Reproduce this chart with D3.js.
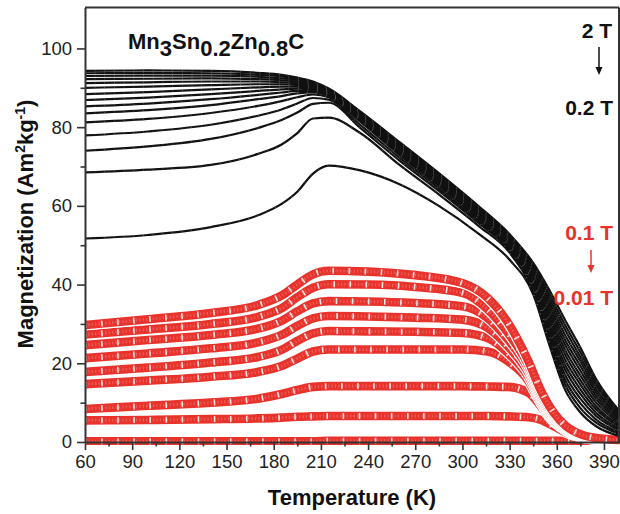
<!DOCTYPE html>
<html><head><meta charset="utf-8">
<script src="https://cdn.jsdelivr.net/npm/d3@7"></script>
<style>body{margin:0;background:#fff} svg{display:block}</style>
</head><body><svg id="chart" width="620" height="514"></svg>
<script>
// Temperatures (K) at which the curves are sampled
const blackT = [60,100,140,170,185,195,205,215,235,260,285,310,330,345,355,365,375,385,400];
// Black curves: 2 T (top) down to 0.2 T (bottom), magnetization in Am2/kg
const black01 = [94.3,94.4,94.3,93.8,93.3,92.6,91.6,89.8,84.0,76.2,68.3,60.0,52.8,45.5,38.8,31.2,24.0,16.0,7.8];
const black02 = [93.7,93.8,93.7,93.3,92.9,92.3,91.3,89.6,83.8,75.9,68.0,59.7,52.5,44.9,37.8,29.9,22.8,15.1,7.4];
const black03 = [93.0,93.1,93.1,92.8,92.4,91.9,91.0,89.4,83.5,75.5,67.6,59.3,52.1,44.4,36.8,28.7,21.6,14.3,6.9];
const black04 = [92.2,92.3,92.4,92.2,91.9,91.5,90.7,89.2,83.3,75.2,67.3,59.0,51.8,43.8,35.8,27.4,20.5,13.4,6.5];
const black05 = [91.2,91.4,91.6,91.6,91.4,91.1,90.4,89.0,83.0,74.9,67.0,58.7,51.5,43.2,34.9,26.1,19.3,12.6,6.0];
const black06 = [90.0,90.3,90.7,90.9,90.9,90.7,90.1,88.8,82.8,74.6,66.7,58.4,51.2,42.6,33.9,24.9,18.1,11.7,5.6];
const black07 = [88.4,88.9,89.6,90.1,90.3,90.3,89.8,88.6,82.5,74.2,66.3,58.0,50.8,42.1,32.9,23.6,16.9,10.9,5.1];
const black08 = [86.9,87.5,88.4,89.2,89.6,89.8,89.5,88.4,82.3,73.9,66.0,57.7,50.5,41.5,31.9,22.4,15.7,10.0,4.7];
const black09 = [85.3,86.0,87.1,88.2,88.8,89.2,89.2,88.2,82.0,73.6,65.7,57.4,50.2,40.9,30.9,21.1,14.6,9.1,4.2];
const black10 = [83.5,84.3,85.6,87.1,87.9,88.6,88.8,87.9,81.8,73.2,65.3,57.0,49.8,40.4,29.9,19.8,13.4,8.3,3.8];
const black11 = [81.2,82.1,83.6,85.4,86.6,87.6,88.3,87.6,81.4,72.9,65.0,56.7,49.5,39.8,28.9,18.6,12.2,7.4,3.3];
const black12 = [77.9,78.9,80.6,82.9,84.5,86.0,87.4,87.0,80.6,72.2,64.4,56.2,49.1,39.2,27.9,17.3,11.0,6.6,2.9];
const black13 = [74.0,75.1,77.0,79.8,81.8,83.7,85.9,86.2,79.8,71.5,63.8,55.7,48.7,38.6,27.0,16.0,9.8,5.7,2.4];
const black14 = [68.5,69.2,70.4,73.2,75.6,78.5,82.2,82.4,78.5,70.4,62.9,55.0,48.1,38.1,26.0,14.8,8.6,4.9,2.0];
const black15 = [51.7,52.6,54.6,57.6,60.5,63.6,68.2,70.2,69.0,65.5,60.0,53.0,46.3,37.5,25.0,13.5,7.5,4.0,1.5];

const redT = [60,100,140,170,185,195,205,215,240,270,300,316,329,342,350,358,366,375,385,400];
// Red curves: 0.1 T (top) down to 0.01 T (bottom)
const red01 = [29.7,31.2,32.8,34.8,37.2,40.0,42.6,43.5,43.3,42.4,40.4,36.6,30.3,20.5,13.0,7.5,4.0,2.0,1.0,0.5];
const red02 = [27.3,28.6,30.0,31.8,34.0,36.8,39.2,40.1,40.0,39.4,37.9,33.7,27.7,19.5,12.3,7.0,3.7,1.8,0.9,0.5];
const red03 = [24.6,25.9,27.2,28.8,30.8,33.2,35.2,35.8,35.7,35.3,34.5,31.5,26.0,18.6,11.6,6.6,3.5,1.7,0.9,0.5];
const red04 = [21.3,22.5,23.8,25.3,27.2,29.5,31.4,32.0,31.9,31.6,31.1,29.0,24.3,17.6,11.0,6.2,3.3,1.6,0.8,0.5];
const red05 = [17.8,18.9,20.2,21.6,23.4,25.7,27.6,28.2,28.1,28.0,27.7,26.4,22.6,16.6,10.4,5.8,3.1,1.5,0.8,0.5];
const red06 = [14.7,15.6,16.6,17.8,19.3,21.2,23.0,23.5,23.5,23.5,23.5,23.0,20.5,15.5,9.8,5.5,2.9,1.4,0.8,0.5];
const red07 = [8.4,9.2,10.0,11.0,12.2,13.2,14.0,14.2,14.2,14.2,14.2,14.1,14.0,12.5,9.0,5.2,2.8,1.3,0.7,0.4];
const red08 = [5.5,5.6,5.8,6.0,6.2,6.4,6.5,6.6,6.6,6.6,6.6,6.6,6.5,6.3,5.6,4.0,2.4,1.2,0.6,0.4];
const red09 = [0.2,0.2,0.2,0.2,0.2,0.2,0.2,0.3,0.3,0.3,0.3,0.3,0.3,0.3,0.3,0.3,0.3,0.3,0.3,0.3];

const xTickValues = [60,90,120,150,180,210,240,270,300,330,360,390];
const xMinorValues = [75,105,135,165,195,225,255,285,315,345,375];
const yTickValues = [0,20,40,60,80,100];
const yMinorValues = [10,30,50,70,90];

const blackSeries = [black15,black14,black13,black12,black11,black10,black09,black08,black07,black06,black05,black04,black03,black02,black01];
const redSeries = [red09,red08,red07,red06,red05,red04,red03,red02,red01];

const svg = d3.select('#chart');
const x = d3.scaleLinear().domain([60,400]).range([85,619.7]);
const y = d3.scaleLinear().domain([0,110.4]).range([442,7.5]);
const axisColor = '#333';
const font = "'Liberation Sans', Arial, sans-serif";

const defs = svg.append('defs');
defs.append('clipPath').attr('id','plotclip').append('rect')
  .attr('x',85).attr('y',7.5).attr('width',619.7-85).attr('height',445-7.5);

const plot = svg.append('g').attr('clip-path','url(#plotclip)');

function lineFor(T){
  return d3.line().x((d,i)=>x(T[i])).y(d=>y(d)).curve(d3.curveMonotoneX);
}
const redLine = lineFor(redT);
const blackLine = lineFor(blackT);

// red curves
redSeries.forEach(s=>{
  const g = plot.append('g');
  g.append('path').attr('d',redLine(s)).attr('fill','none').attr('stroke','#fff').attr('stroke-width',11);
  g.append('path').attr('d',redLine(s)).attr('fill','none').attr('stroke','#e8322c').attr('stroke-width',8.6);
  g.append('path').attr('d',redLine(s)).attr('fill','none').attr('stroke','#f7b5b0').attr('stroke-width',3)
    .attr('stroke-dasharray','1.2 2.2').attr('opacity',0.35);
  g.append('path').attr('d',redLine(s)).attr('fill','none').attr('stroke','#fff').attr('stroke-width',6)
    .attr('stroke-dasharray','1.6 14.5').attr('opacity',0.85);
});

// black curves
blackSeries.forEach(s=>{
  plot.append('path').attr('d',blackLine(s)).attr('fill','none').attr('stroke','#111').attr('stroke-width',2.2);
});
blackSeries.forEach(s=>{
  plot.append('path').attr('d',blackLine(s)).attr('fill','none').attr('stroke','#fff').attr('stroke-width',0.7)
    .attr('stroke-dasharray','0.7 9').attr('opacity',0.55);
});

// axes
svg.append('g').attr('transform','translate(0,442)')
  .call(d3.axisBottom(x).tickValues(xTickValues).tickSize(8).tickSizeOuter(0).tickPadding(5));
svg.append('g').attr('transform','translate(0,442)')
  .call(d3.axisBottom(x).tickValues(xMinorValues).tickSize(4.5).tickFormat('')).select('.domain').remove();
svg.append('g').attr('transform','translate(85,0)')
  .call(d3.axisLeft(y).tickValues(yTickValues).tickSize(8).tickSizeOuter(0).tickPadding(5));
svg.append('g').attr('transform','translate(85,0)')
  .call(d3.axisLeft(y).tickValues(yMinorValues).tickSize(4.5).tickFormat('')).select('.domain').remove();

svg.selectAll('.domain').attr('stroke',axisColor).attr('stroke-width',2);
svg.selectAll('.tick line').attr('stroke',axisColor).attr('stroke-width',1.6);
svg.selectAll('.tick text').attr('fill','#222').style('font-family',font).style('font-size','18.5px');

// frame top & right
svg.append('line').attr('x1',85).attr('x2',619).attr('y1',7.5).attr('y2',7.5).attr('stroke',axisColor).attr('stroke-width',2);
svg.append('line').attr('x1',619).attr('x2',619).attr('y1',7.5).attr('y2',442).attr('stroke',axisColor).attr('stroke-width',2);

// axis titles
svg.append('text').attr('x',352).attr('y',505).attr('text-anchor','middle')
  .style('font-family',font).style('font-weight','bold').style('font-size','22px').attr('fill','#111')
  .text('Temperature (K)');
const yt = svg.append('text').attr('transform','translate(33,224) rotate(-90)').attr('text-anchor','middle')
  .style('font-family',font).style('font-weight','bold').style('font-size','22px').attr('fill','#111');
yt.append('tspan').text('Magnetization (Am');
yt.append('tspan').text('2').style('font-size','14px').attr('dy',-8);
yt.append('tspan').text('kg').attr('dy',8);
yt.append('tspan').text('-1').style('font-size','14px').attr('dy',-8);
yt.append('tspan').text(')').attr('dy',8);

// compound title
const tt = svg.append('text').attr('x',128).attr('y',49)
  .style('font-family',font).style('font-weight','bold').style('font-size','22px').attr('fill','#111');
tt.append('tspan').text('Mn');
tt.append('tspan').text('3').attr('dy',7);
tt.append('tspan').text('Sn').attr('dy',-7);
tt.append('tspan').text('0.2').attr('dy',7);
tt.append('tspan').text('Zn').attr('dy',-7);
tt.append('tspan').text('0.8').attr('dy',7);
tt.append('tspan').text('C').attr('dy',-7);

// field labels
function label(txt, xx, yy, color){
  svg.append('text').attr('x',xx).attr('y',yy).attr('text-anchor','end')
    .style('font-family',font).style('font-weight','bold').style('font-size','21px').attr('fill',color).text(txt);
}
label('2 T',612,38,'#111');
label('0.2 T',613,115,'#111');
label('0.1 T',613,240,'#e8322c');
label('0.01 T',613,305,'#e8322c');
function arrow(xx,y1,y2,color){
  svg.append('line').attr('x1',xx).attr('x2',xx).attr('y1',y1).attr('y2',y2-6).attr('stroke',color).attr('stroke-width',1.5);
  svg.append('path').attr('d',`M${xx-3.5},${y2-8}L${xx+3.5},${y2-8}L${xx},${y2}Z`).attr('fill',color);
}
arrow(599,47,75,'#111');
arrow(591,250,273,'#e8322c');
</script>
</body></html>
